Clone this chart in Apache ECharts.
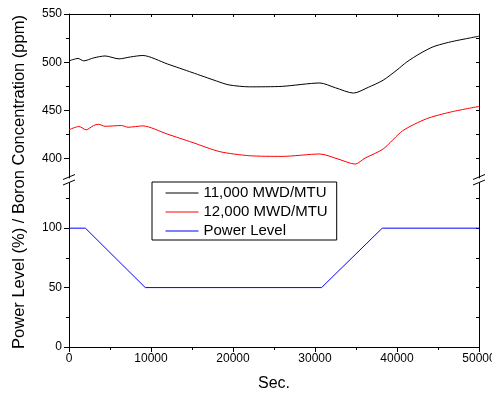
<!DOCTYPE html>
<html>
<head>
<meta charset="utf-8">
<title>Boron / Power Level</title>
<script src="https://cdn.jsdelivr.net/npm/echarts@6.0.0/dist/echarts.min.js"></script>
<style>
  html, body { margin: 0; padding: 0; background: #fff; }
  #chart { width: 492px; height: 394px; }
</style>
</head>
<body>
<div id="chart"></div>
<script>
// data
var blackSec = [0, 1100, 1800, 3000, 4400, 6100, 7500, 9000, 12000, 15000, 18000, 19500, 22000, 26000, 30600, 32500, 34700, 36500, 38300, 40000, 41200, 42800, 44400, 46000, 47300, 48800, 50000];
var blackPpm = [501.4, 503.9, 501.4, 504.5, 506.5, 503.5, 505.5, 507, 498.2, 489.4, 480.5, 476.5, 474.5, 475, 478.5, 473.5, 468, 474, 481.3, 492, 500.3, 509, 516, 520, 522.5, 525, 527];
var redSec = [0, 1200, 2100, 3000, 3600, 4400, 6400, 7200, 9000, 12000, 15000, 18400, 22000, 26000, 30600, 32800, 34900, 36100, 38300, 40700, 43600, 46500, 50000];
var redPpm = [430, 433.4, 430, 434.4, 435.7, 433.6, 434.4, 432.6, 434, 425.5, 417, 407.3, 403.1, 402.4, 404.9, 399.7, 394.4, 400.6, 410, 429, 441.4, 448.3, 454.2];
var powerSec = [0, 2000, 9300, 30800, 38200, 50000];
var powerPct = [100, 100, 50, 50, 100, 100];

var seriesNames = ['11,000 MWD/MTU', '12,000 MWD/MTU', 'Power Level'];
var xTicks = [0, 10000, 20000, 30000, 40000, 50000];
var boronLabels = [400, 450, 500, 550];
var boronMinor = [425, 475, 525];
var powerLabels = [0, 50, 100];
var powerMinor = [25, 75, 125];

function pairs(xs, ys) {
  return xs.map(function (x, i) { return [x, ys[i]]; });
}

var FONT = '"Liberation Sans", Arial, sans-serif';
var L = 69, R = 479, T1 = 14, B1 = 178, T2 = 183, B2 = 347;

var chart = echarts.init(document.getElementById('chart'), null, { renderer: 'canvas' });

var lineAxis = { show: true, lineStyle: { color: '#000', width: 1 } };
var plain = function (v) { return String(v); };

function yAx(grid, pos, min, max, opts) {
  return Object.assign({
    type: 'value', gridIndex: grid, position: pos, min: min, max: max,
    splitLine: { show: false },
    axisLine: lineAxis,
    axisLabel: { show: false }
  }, opts);
}

var option = {
  animation: false,
  backgroundColor: '#fff',
  textStyle: { fontFamily: FONT },
  grid: [
    { left: L, right: 492 - R, top: T1, height: B1 - T1, outerBoundsMode: 'none' },
    { left: L, right: 492 - R, top: T2, height: B2 - T2, outerBoundsMode: 'none' }
  ],
  xAxis: [
    {
      type: 'value', gridIndex: 0, position: 'top', min: 0, max: 50000, interval: 5000,
      axisLine: lineAxis,
      axisTick: { inside: true, length: 3, lineStyle: { color: '#000' } },
      axisLabel: { show: false }, splitLine: { show: false }
    },
    {
      type: 'value', gridIndex: 1, position: 'bottom', min: 0, max: 50000,
      axisLine: lineAxis,
      axisTick: { length: 5, customValues: xTicks, lineStyle: { color: '#000' } },
      minorTick: { show: true, splitNumber: 2, length: 3, lineStyle: { color: '#000' } },
      axisLabel: { customValues: xTicks, formatter: plain, color: '#000', fontSize: 12, fontFamily: FONT, margin: 6 },
      splitLine: { show: false },
      name: 'Sec.', nameLocation: 'middle', nameGap: 29,
      nameTextStyle: { color: '#000', fontSize: 16, fontFamily: FONT }
    }
  ],
  yAxis: [
    yAx(0, 'left', 380, 550, {
      axisTick: { length: 5, customValues: boronLabels, lineStyle: { color: '#000' } },
      axisLabel: { show: true, customValues: boronLabels, formatter: plain, color: '#000', fontSize: 12, fontFamily: FONT, margin: 7 }
    }),
    yAx(0, 'left', 380, 550, {
      axisLine: { show: false },
      axisTick: { length: 3, customValues: boronMinor, lineStyle: { color: '#000' } }
    }),
    yAx(0, 'right', 380, 550, {
      axisTick: { inside: true, length: 3, customValues: boronLabels.concat(boronMinor), lineStyle: { color: '#000' } }
    }),
    yAx(1, 'left', 0, 138, {
      axisTick: { length: 5, customValues: powerLabels, lineStyle: { color: '#000' } },
      axisLabel: { show: true, customValues: powerLabels, formatter: plain, color: '#000', fontSize: 12, fontFamily: FONT, margin: 7 }
    }),
    yAx(1, 'left', 0, 138, {
      axisLine: { show: false },
      axisTick: { length: 3, customValues: powerMinor, lineStyle: { color: '#000' } }
    }),
    yAx(1, 'right', 0, 138, {
      axisTick: { inside: true, length: 3, customValues: powerLabels.concat(powerMinor), lineStyle: { color: '#000' } }
    })
  ],
  legend: {
    orient: 'vertical', left: 152, top: 182,
    data: seriesNames,
    borderColor: '#000', borderWidth: 1, borderRadius: 0,
    padding: [3, 9, 1, 13],
    itemWidth: 33, itemHeight: 12, itemGap: 3,
    itemStyle: { opacity: 0 },
    lineStyle: { width: 1 },
    textStyle: { color: '#000', fontSize: 15, lineHeight: 16, fontFamily: FONT }
  },
  series: [
    {
      name: seriesNames[0], type: 'line', xAxisIndex: 0, yAxisIndex: 0,
      data: pairs(blackSec, blackPpm), symbol: 'none', smooth: 0.25,
      lineStyle: { color: '#000', width: 1 }, itemStyle: { color: '#000' }
    },
    {
      name: seriesNames[1], type: 'line', xAxisIndex: 0, yAxisIndex: 0,
      data: pairs(redSec, redPpm), symbol: 'none', smooth: 0.25,
      lineStyle: { color: '#ff0000', width: 1 }, itemStyle: { color: '#ff0000' }
    },
    {
      name: seriesNames[2], type: 'line', xAxisIndex: 1, yAxisIndex: 3,
      data: pairs(powerSec, powerPct), symbol: 'none',
      lineStyle: { color: '#0000ff', width: 1 }, itemStyle: { color: '#0000ff' }
    }
  ],
  graphic: [
    {
      type: 'text', x: 19, y: 182, rotation: Math.PI / 2,
      style: {
        text: 'Power Level (%) / Boron Concentration (ppm)',
        fill: '#000', font: '16.5px ' + FONT, align: 'center', verticalAlign: 'middle'
      }
    }
  ]
};

// axis-break marks on both vertical axes
[L, R].forEach(function (ax) {
  option.graphic.push(
    { type: 'line', shape: { x1: ax - 6, y1: 179.5, x2: ax + 6, y2: 174.5 }, style: { stroke: '#000', lineWidth: 1 } },
    { type: 'line', shape: { x1: ax - 6, y1: 185, x2: ax + 6, y2: 180 }, style: { stroke: '#000', lineWidth: 1 } }
  );
});

chart.setOption(option);
</script>
</body>
</html>
